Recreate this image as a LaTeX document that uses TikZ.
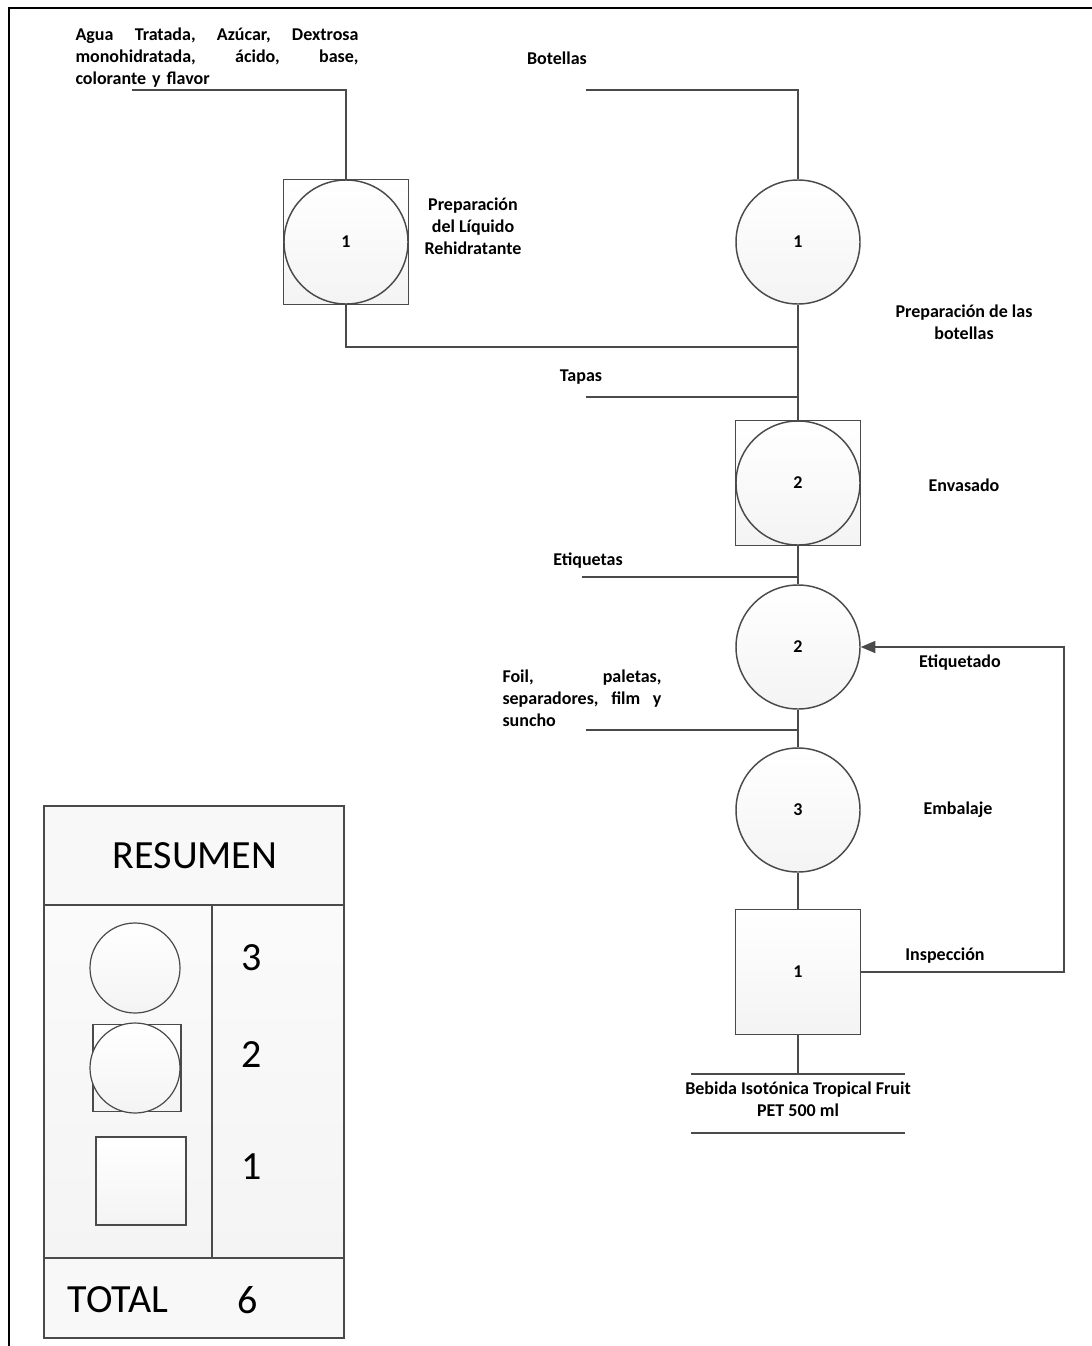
\documentclass[tikz,border=0pt]{standalone}
\usepackage{fontspec}
\setmainfont{Carlito}
\usetikzlibrary{arrows.meta,shadows}
\definecolor{linec}{HTML}{4A4A4A}
\definecolor{fillc}{HTML}{F4F4F4}
\tikzset{
  conn/.style={draw=linec, line width=1.3pt},
  opcirc/.style={circle, draw=linec, line width=1.1pt, minimum size=93pt, inner sep=0pt,
     top color=white, bottom color=fillc!85!gray!40, font=\fontsize{13.5}{16.5}\selectfont\bfseries},
  sqbox/.style={rectangle, draw=linec, line width=1.1pt, minimum size=93.5pt, inner sep=0pt,
     top color=white, bottom color=fillc!85!gray!40, font=\fontsize{13.5}{16.5}\selectfont\bfseries},
  lbl/.style={font=\fontsize{13.5}{16.5}\selectfont\bfseries, align=center, inner sep=0pt},
  big/.style={font=\fontsize{30}{36}\selectfont, inner sep=0pt},
  tbl/.style={draw=linec, line width=1.1pt},
  legcirc/.style={circle, draw=linec, line width=0.9pt, minimum size=67.5pt, inner sep=0pt,
     top color=white, bottom color=fillc!85!gray!40},
}
\begin{document}
\begin{tikzpicture}[x=0.75pt,y=-0.75pt]
\useasboundingbox (0,0) rectangle (1092,1346);
\fill[white] (0,0) rectangle (1092,1346);
% outer frame
\draw[line width=1.5pt, black] (9,1346) -- (9,8) -- (1092,8);

% process nodes
\node[sqbox] (sq1) at (346,242) {};
\node[opcirc] (c1) at (346,242) {1};
\node[opcirc] (c2) at (798,242) {1};
\node[sqbox] (sq2) at (798,483) {};
\node[opcirc] (c3) at (798,483) {2};
\node[opcirc] (c4) at (798,647) {2};
\node[opcirc] (c5) at (798,810) {3};
\node[sqbox] (sq3) at (798,972) {1};

% coordinates
\coordinate (in1) at (132,90);
\coordinate (k1) at (346,90);
\coordinate (in2) at (586,90);
\coordinate (k2) at (798,90);
\coordinate (j1) at (798,347);
\coordinate (in3) at (586,397);
\coordinate (j3) at (798,397);
\coordinate (in4) at (582,577);
\coordinate (j4) at (798,577);
\coordinate (in5) at (586,730);
\coordinate (j5) at (798,730);
\coordinate (out) at (798,1074);
\coordinate (o1) at (691,1074);
\coordinate (o2) at (905,1074);
\coordinate (o3) at (691,1133);
\coordinate (o4) at (905,1133);
\coordinate (fb) at (1064,972);

% connectors
\draw[conn] (in1) -- (k1) -- (sq1.north);
\draw[conn] (in2) -- (k2) -- (c2.north);
\draw[conn] (sq1.south) |- (j1);
\draw[conn] (c2.south) -- (sq2.north);
\draw[conn] (in3) -- (j3);
\draw[conn] (sq2.south) -- (c4.north);
\draw[conn] (in4) -- (j4);
\draw[conn] (c4.south) -- (c5.north);
\draw[conn] (in5) -- (j5);
\draw[conn] (c5.south) -- (sq3.north);
\draw[conn] (sq3.south) -- (out);
\draw[conn] (o1) -- (o2);
\draw[conn] (o3) -- (o4);
\draw[conn, -{Triangle[length=11pt,width=9pt]}] (sq3.east) -- (fb) |- (c4.east);

% labels
\node[lbl, text width=212.25pt, align=left] (tin1) at (217,58)
  {\hbox to 212.25pt{Agua\hfill Tratada,\hfill Azúcar,\hfill Dextrosa}\par
   \hbox to 212.25pt{monohidratada,\hfill ácido,\hfill base,}\par
   colorante y flavor};
\node[lbl] (tbot) at (557,58) {Botellas};
\node[lbl] (tprep1) at (473,226) {Preparación\\del Líquido\\Rehidratante};
\node[lbl] (tprep2) at (964,322) {Preparación de las\\botellas};
\node[lbl] (ttap) at (581,377) {Tapas};
\node[lbl] (tenv) at (964,485) {Envasado};
\node[lbl] (teti) at (588,561) {Etiquetas};
\node[lbl] (tetq) at (960,663) {Etiquetado};
\node[lbl, text width=119.25pt, align=left] (tfoil) at (582,698)
  {\hbox to 119.25pt{Foil,\hfill paletas,}\par
   \hbox to 119.25pt{separadores,\hfill film\hfill y}\par
   suncho};
\node[lbl] (temb) at (958,810) {Embalaje};
\node[lbl] (tins) at (945,956) {Inspección};
\node[lbl] (tout) at (798,1099) {Bebida Isotónica Tropical Fruit\\PET 500 ml};

% summary table
\fill[fillc!60] (44,806) rectangle (344,905);
\shade[top color=fillc!40, bottom color=fillc] (44,905) rectangle (344,1258);
\fill[fillc!90!gray!30] (44,1258) rectangle (344,1338);
\draw[tbl] (44,806) rectangle (344,1338);
\draw[tbl] (44,905) -- (344,905);
\draw[tbl] (44,1258) -- (344,1258);
\draw[tbl] (212,905) -- (212,1258);
\node[big] (tres) at (195,856) {RESUMEN};
\node[legcirc] (lc1) at (135,968) {};
\node[rectangle, draw=linec, line width=0.9pt, minimum width=66pt, minimum height=65.5pt, inner sep=0pt,
  top color=white, bottom color=fillc!85!gray!40] (ls1) at (137,1068) {};
\node[legcirc] (lc2) at (135,1068) {};
\node[rectangle, draw=linec, line width=0.9pt, minimum width=67.5pt, minimum height=66pt, inner sep=0pt,
  top color=white, bottom color=fillc!85!gray!40] (ls2) at (141,1181) {};
\node[big] (n3) at (252,958) {3};
\node[big] (n2) at (252,1055) {2};
\node[big] (n1) at (252,1167) {1};
\node[big] (ttot) at (118,1300) {TOTAL};
\node[big] (n6) at (248,1300) {6};
\end{tikzpicture}
\end{document}
